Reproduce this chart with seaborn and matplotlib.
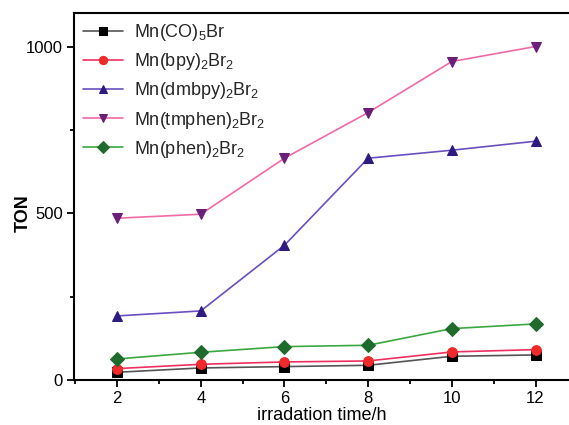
import numpy as np
import pandas as pd
import matplotlib
matplotlib.use('Agg')
import matplotlib.pyplot as plt
from matplotlib.ticker import MultipleLocator
import seaborn as sns

# ==================== 数据 ====================
hours = [2, 4, 6, 8, 10, 12]
labels = ['Mn(CO)$_5$Br', 'Mn(bpy)$_2$Br$_2$', 'Mn(dmbpy)$_2$Br$_2$',
          'Mn(tmphen)$_2$Br$_2$', 'Mn(phen)$_2$Br$_2$']
ton_co = [23, 36, 40, 44, 71, 75]
ton_bpy = [34, 47, 54, 57, 84, 91]
ton_dmbpy = [192, 207, 404, 665, 689, 716]
ton_tmphen = [485, 497, 665, 802, 955, 1000]
ton_phen = [63, 83, 100, 104, 154, 168]

series = [ton_co, ton_bpy, ton_dmbpy, ton_tmphen, ton_phen]
df = pd.DataFrame({
    'time': hours * len(labels),
    'TON': sum(series, []),
    'cat': [lab for lab in labels for _ in hours],
})

line_colors = ['#555555', '#ee3060', '#6a4fc0', '#f06aa8', '#3aa840']
marker_face = ['#000000', '#ee2a2a', '#2e1a80', '#6a1f7a', '#1f6b2e']
markers = ['s', 'o', '^', 'v', 'D']

sns.set_style('ticks')
plt.rcParams['font.family'] = ['Liberation Sans', 'DejaVu Sans']
plt.rcParams['mathtext.fontset'] = 'custom'
plt.rcParams['mathtext.rm'] = 'Liberation Sans'
plt.rcParams['mathtext.it'] = 'Liberation Sans'

fig = plt.figure(figsize=(5.69, 4.25), dpi=100)
ax = fig.add_axes([0.130, 0.106, 0.870, 0.863])

for i, lab in enumerate(labels):
    sns.lineplot(data=df[df['cat'] == lab], x='time', y='TON', ax=ax,
                 color=line_colors[i], marker=markers[i], markersize=7,
                 markerfacecolor=marker_face[i], markeredgecolor=marker_face[i],
                 linewidth=1.2, label=lab)

ax.set_xlim(0.97, 12.8)
ax.set_ylim(0, 1100)
ax.set_xticks(hours)
ax.set_yticks([0, 500, 1000])
ax.xaxis.set_minor_locator(MultipleLocator(1))
ax.yaxis.set_minor_locator(MultipleLocator(250))
ax.tick_params(which='major', direction='out', length=5, width=1.3,
               labelsize=12, pad=3, color='black', labelcolor='black')
ax.tick_params(which='minor', direction='out', length=3, width=1.3, color='black')
ax.spines['right'].set_visible(False)
for s in ['left', 'bottom', 'top']:
    ax.spines[s].set_linewidth(1.5)
    ax.spines[s].set_color('black')

ax.set_xlabel('irradation time/h', fontsize=13, labelpad=1, color='black')
ax.set_ylabel('TON', fontsize=13, fontweight='bold', color='black')
ax.yaxis.set_label_coords(-0.085, 0.455)

ax.legend(loc='upper left', frameon=False, fontsize=13, handlelength=2.2,
          labelspacing=0.45, borderaxespad=0.1, handletextpad=0.6,
          markerscale=0.85)

fig.savefig('out.png', dpi=100)
